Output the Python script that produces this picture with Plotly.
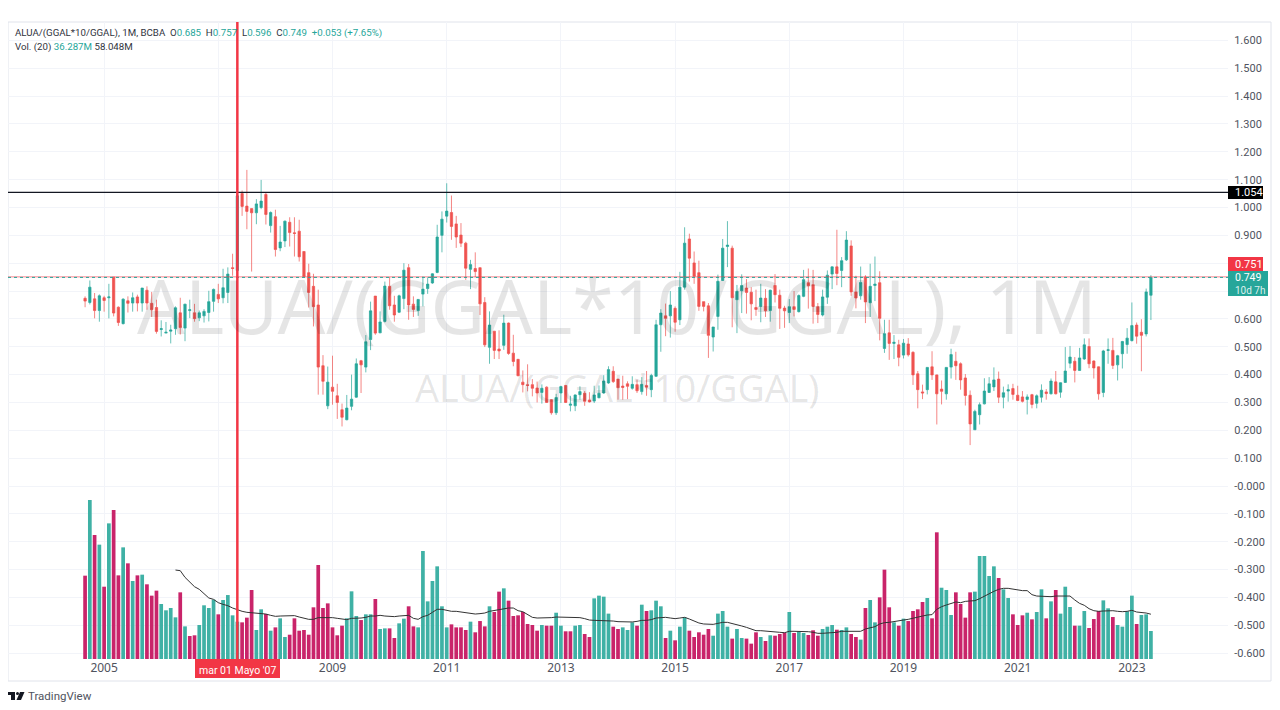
import plotly.graph_objects as go

# Monthly OHLC, Sep 2004 to May 2023
opens = [
    .674,.659,.672,.630,.676,.676,.750,.642,.583,.665,
    .657,.679,.657,.703,.656,.641,.562,.549,.556,.565,
    .622,.567,.630,.622,.604,.611,.623,.663,.688,.676,
    .695,.784,.774,1.050,1.005,.996,.981,1.000,1.047,.935,
    .967,.855,.880,.947,.909,.915,.842,.766,.717,.650,
    .432,.288,.355,.324,.274,.238,.286,.319,.450,.427,
    .526,.682,.550,.591,.717,.650,.624,.673,.784,.653,
    .630,.689,.709,.729,.767,.900,.969,.982,.941,.901,
    .872,.778,.781,.784,.659,.498,.556,.492,.505,.585,
    .477,.455,.373,.364,.364,.352,.336,.355,.310,.263,
    .334,.361,.290,.288,.328,.333,.309,.305,.317,.334,
    .370,.412,.384,.359,.367,.351,.364,.339,.361,.346,
    .394,.579,.611,.611,.638,.597,.714,.887,.801,.766,
    .662,.647,.535,.609,.738,.860,.854,.669,.701,.711,
    .696,.641,.645,.674,.630,.720,.685,.639,.623,.644,
    .626,.681,.730,.723,.644,.614,.678,.761,.787,.774,
    .812,.862,.697,.683,.750,.658,.720,.730,.494,.550,
    .512,.507,.470,.510,.480,.403,.338,.346,.428,.399,
    .348,.331,.427,.448,.439,.388,.326,.202,.256,.295,
    .336,.356,.384,.319,.341,.350,.326,.320,.311,.328,
    .297,.319,.338,.331,.374,.337,.372,.441,.448,.415,
    .456,.501,.449,.428,.336,.487,.487,.435,.475,.508,
    .522,.578,.552,.546,.685,
]
highs = [
    .681,.738,.693,.688,.683,.726,.750,.645,.674,.681,
    .695,.687,.711,.717,.697,.669,.595,.589,.579,.645,
    .676,.654,.669,.654,.630,.635,.701,.709,.726,.780,
    .785,.834,1.051,1.061,1.135,.996,1.030,1.099,1.054,.986,
    .992,.934,.953,.965,.965,.956,.842,.798,.762,.705,
    .470,.429,.468,.367,.296,.327,.400,.458,.453,.542,
    .662,.682,.627,.734,.750,.683,.687,.800,.797,.681,
    .671,.752,.749,.764,.938,.986,1.087,1.043,.970,.944,
    .877,.812,.839,.784,.678,.627,.556,.559,.615,.587,
    .543,.456,.415,.437,.384,.375,.365,.358,.312,.331,
    .360,.363,.324,.329,.358,.341,.337,.360,.361,.398,
    .430,.430,.384,.396,.376,.394,.382,.391,.413,.403,
    .597,.635,.655,.700,.645,.769,.929,.906,.842,.809,
    .662,.657,.571,.759,.887,.951,.863,.722,.760,.743,
    .714,.705,.726,.707,.705,.761,.705,.647,.671,.700,
    .688,.776,.781,.776,.657,.705,.774,.788,.920,.822,
    .915,.882,.755,.788,.757,.798,.824,.771,.597,.597,
    .542,.525,.528,.531,.484,.413,.364,.427,.484,.400,
    .379,.427,.493,.482,.444,.402,.343,.274,.300,.387,
    .391,.426,.411,.357,.365,.367,.360,.341,.329,.331,
    .329,.365,.348,.386,.413,.372,.499,.503,.463,.496,
    .530,.530,.451,.429,.489,.530,.532,.471,.521,.567,
    .659,.587,.599,.709,.757,
]
lows = [
    .642,.652,.602,.590,.626,.602,.609,.575,.580,.623,
    .626,.627,.626,.633,.607,.547,.537,.549,.512,.543,
    .544,.520,.603,.590,.592,.587,.591,.626,.657,.656,
    .657,.755,.764,.970,.922,.770,.940,.994,.939,.910,
    .824,.843,.858,.860,.824,.806,.750,.641,.573,.328,
    .328,.276,.292,.241,.214,.236,.272,.317,.334,.408,
    .488,.543,.549,.587,.633,.590,.621,.635,.597,.607,
    .611,.645,.690,.726,.764,.839,.946,.884,.855,.858,
    .740,.707,.750,.614,.499,.439,.456,.456,.489,.471,
    .430,.394,.336,.340,.322,.300,.296,.298,.256,.255,
    .298,.298,.268,.269,.310,.288,.300,.298,.315,.331,
    .367,.370,.310,.310,.312,.346,.334,.328,.324,.319,
    .392,.482,.538,.533,.554,.578,.705,.734,.726,.629,
    .627,.460,.483,.561,.736,.786,.570,.549,.621,.619,
    .595,.611,.588,.607,.590,.659,.564,.568,.585,.609,
    .623,.678,.637,.583,.585,.609,.654,.707,.721,.714,
    .808,.683,.638,.669,.585,.607,.664,.523,.478,.453,
    .456,.430,.458,.465,.363,.279,.312,.329,.381,.221,
    .293,.310,.386,.381,.346,.289,.147,.202,.221,.293,
    .334,.341,.298,.279,.303,.310,.305,.300,.257,.279,
    .279,.300,.310,.329,.329,.317,.370,.423,.372,.414,
    .453,.423,.386,.310,.319,.439,.420,.379,.422,.475,
    .519,.511,.412,.537,.596,
]
closes = [
    .664,.714,.630,.683,.666,.679,.621,.587,.671,.656,
    .676,.657,.711,.657,.633,.555,.565,.552,.560,.640,
    .569,.653,.633,.601,.622,.627,.662,.706,.672,.712,
    .761,.781,1.042,1.004,.986,.981,1.013,1.023,.975,.982,
    .849,.876,.951,.910,.907,.823,.752,.695,.644,.427,
    .376,.373,.340,.300,.247,.280,.312,.439,.435,.518,
    .629,.549,.589,.718,.647,.614,.683,.775,.650,.634,
    .670,.707,.725,.762,.894,.958,.987,.932,.894,.872,
    .782,.795,.770,.654,.507,.578,.487,.485,.585,.476,
    .447,.396,.364,.361,.351,.334,.351,.300,.263,.318,
    .357,.300,.294,.327,.339,.304,.302,.327,.333,.377,
    .418,.375,.353,.354,.358,.365,.342,.365,.355,.397,
    .579,.621,.602,.650,.588,.714,.872,.818,.753,.645,
    .645,.541,.571,.735,.854,.865,.676,.699,.720,.695,
    .654,.634,.675,.629,.703,.687,.638,.629,.644,.634,
    .684,.741,.719,.645,.616,.679,.757,.787,.763,.809,
    .883,.697,.675,.731,.661,.717,.725,.602,.547,.512,
    .516,.462,.513,.471,.399,.346,.334,.426,.399,.331,
    .340,.426,.472,.432,.381,.325,.223,.268,.292,.341,
    .367,.381,.319,.335,.346,.329,.307,.304,.320,.293,
    .324,.344,.332,.377,.331,.371,.413,.463,.415,.460,
    .507,.439,.424,.331,.485,.489,.433,.468,.519,.531,
    .576,.538,.541,.697,.749,
]

# Volume in millions, and the up/down colour flag of each bar
volumes = [
    108.0,206.1,160.7,148.2,93.7,175.8,193.1,108.4,144.7,124.0,
    101.1,108.4,109.3,96.8,82.1,88.6,71.3,63.1,66.1,54.0,
    86.4,42.3,29.8,30.7,44.1,69.6,66.1,76.9,57.9,76.5,
    82.9,56.6,48.4,47.5,53.6,89.4,37.6,64.4,58.3,36.7,
    41.0,52.7,28.5,31.5,52.7,36.7,37.6,31.5,67.0,121.8,
    66.1,72.1,41.0,30.7,43.2,52.7,87.7,55.7,50.5,57.9,
    57.9,77.8,38.9,39.7,39.7,27.2,46.2,52.3,68.3,42.3,
    41.0,140.0,74.7,101.1,120.1,68.3,41.0,44.9,41.0,41.0,
    37.6,48.4,34.6,49.2,42.3,68.3,60.9,87.3,91.6,75.6,
    55.7,56.6,60.9,45.4,44.1,36.7,44.1,43.2,43.2,60.0,
    43.2,35.9,35.9,43.2,44.1,32.4,28.5,78.6,82.1,80.8,
    58.8,41.9,38.9,41.0,37.6,47.5,43.2,70.4,62.2,63.1,
    75.6,68.3,27.2,36.7,24.2,41.9,54.0,36.7,28.5,34.6,
    31.5,38.9,30.2,58.8,62.2,41.9,26.4,38.9,27.2,26.4,
    19.9,34.6,28.5,23.3,30.7,30.2,32.4,34.1,60.9,33.7,
    35.4,33.7,31.1,37.2,30.2,38.9,41.9,44.1,38.0,37.6,
    41.0,32.4,28.5,25.1,66.1,76.5,47.5,79.9,115.8,67.0,
    47.5,43.2,52.3,49.2,62.2,64.4,73.9,79.1,52.7,164.2,
    92.4,89.4,57.0,86.4,71.3,53.6,86.4,87.3,133.5,133.5,
    107.6,120.1,105.0,90.3,79.1,57.9,44.1,56.6,60.0,51.4,
    60.9,90.3,52.7,74.7,89.4,58.8,93.7,67.4,43.2,43.2,
    62.2,40.2,51.8,62.2,76.0,65.7,54.4,44.1,41.9,61.8,
    82.1,45.4,57.0,57.9,36.287,
]
vol_dir = (
    "dudududdud" "ududdduuuu" "dudduuuudu" "uuuddduudu" "duuddddddd"
    "ddddduuudu" "uduudduudd" "uuuuuuuddd" "duddduddud" "dddddduddu"
    "udduudduuu" "udduuududu" "uududuuddd" "dduuuuduud" "ddududddud"
    "uuddduuudu" "udduduuddd" "ududdddudd" "uuudddduuu" "uuduudddud"
    "uududuuudu" "uddduuduuu" "uduuu"
)

# Volume moving average line (starts once 20 bars exist), millions
vol_ma = [
    115.3,114.5,105.8,99.8,93.7,90.3,85.1,79.1,77.3,73.0,
    70.8,69.1,66.1,63.5,61.8,60.5,60.0,59.6,59.2,58.3,
    56.6,55.3,55.7,55.7,56.2,56.2,54.4,52.7,51.4,51.4,
    53.6,53.6,54.0,53.6,52.7,51.8,51.0,52.7,52.7,53.1,54.0,
    55.7,55.7,56.6,55.7,54.9,54.9,55.7,56.6,56.6,
    52.7,51.4,54.9,56.6,60.5,64.4,64.4,62.6,61.8,61.8,60.9,
    59.6,58.3,58.3,58.8,59.6,61.8,63.1,64.4,65.2,66.1,
    66.1,62.6,61.3,57.5,54.0,53.1,53.1,53.1,53.6,54.4,
    54.4,54.0,54.0,54.0,53.6,52.3,50.5,50.1,50.1,50.1,
    50.1,49.2,48.4,48.0,48.0,48.0,48.8,50.1,50.1,51.0,
    53.1,54.0,54.0,53.1,52.3,53.1,54.0,51.8,49.2,46.7,
    45.4,44.9,44.9,46.2,47.5,47.5,46.2,44.5,42.8,41.0,
    38.4,36.7,36.7,36.3,36.3,35.9,34.6,34.1,35.9,35.9,
    35.9,35.9,35.4,34.6,33.3,33.3,33.7,34.1,34.6,35.9,
    35.9,35.9,35.9,35.9,38.9,40.2,41.9,45.4,47.1,47.5,
    48.8,49.2,50.5,51.4,53.1,54.0,55.7,57.0,57.5,64.4,
    67.8,70.0,72.1,73.9,73.0,74.7,75.2,75.6,78.2,81.6,
    84.2,87.7,90.3,91.6,91.6,90.7,89.4,88.6,88.6,83.4,
    81.6,81.2,80.8,80.8,81.6,81.6,82.5,81.6,76.5,72.1,
    69.6,65.2,62.6,61.8,62.2,62.6,62.6,61.8,61.3,61.8,
    63.1,60.9,60.5,59.6,58.048,
]

# Axis ticks
year_ticks = [2005, 2007, 2009, 2011, 2013, 2015, 2017, 2019, 2021, 2023]
year_labels = ["2005", "", "2009", "2011", "2013", "2015", "2017", "2019", "2021", "2023"]
price_ticks = [1.6, 1.5, 1.4, 1.3, 1.2, 1.1, 1.0, 0.9, 0.8, 0.7, 0.6, 0.5, 0.4, 0.3, 0.2, 0.1,
               0.0, -0.1, -0.2, -0.3, -0.4, -0.5, -0.6]
price_labels = ["1.600", "1.500", "1.400", "1.300", "1.200", "1.100", "1.000", "0.900", "", "",
                "0.600", "0.500", "0.400", "0.300", "0.200", "0.100",
                "-0.000", "-0.100", "-0.200", "-0.300", "-0.400", "-0.500", "-0.600"]

GREEN = "#26a69a"
RED = "#ef5350"
MARK_RED = "#f23645"
VOL_UP = "#3fb1a5"
VOL_DOWN = "#c9246a"
FONT = "Noto Sans"
SMALL_FONT = "Roboto"
TEXT = "#50535e"

# the page has an 8px body margin, and the pane runs 8..1228 by 22..659 on screen
PANE_L, PANE_R, PANE_T, PANE_B = 8, 1228, 22, 659


def px(x):
    return (x - PANE_L) / (PANE_R - PANE_L)


def py(y):
    return 1 - (y - PANE_T) / (PANE_B - PANE_T)


def month_index(year, month):
    return (year - 2004) * 12 + month - 9


def label(x, y, text, size=11, color=TEXT, xanchor="left", family=SMALL_FONT):
    fig.add_annotation(x=px(x), y=py(y), xref="paper", yref="paper", xanchor=xanchor, yanchor="middle",
                       showarrow=False, text=text, borderpad=0,
                       font=dict(family=family, size=size, color=color))


idx = list(range(len(opens)))
fig = go.Figure()

fig.add_trace(go.Bar(
    x=idx, y=volumes, yaxis="y2",
    marker=dict(color=[VOL_UP if d == "u" else VOL_DOWN for d in vol_dir], line_width=0),
    hoverinfo="skip",
))
fig.add_trace(go.Scatter(
    x=idx[19:], y=vol_ma, yaxis="y2", mode="lines",
    line=dict(color="#333333", width=1), hoverinfo="skip",
))
fig.add_trace(go.Candlestick(
    x=idx, open=opens, high=highs, low=lows, close=closes,
    increasing=dict(line=dict(color="rgba(38,166,154,0.7)", width=1), fillcolor=GREEN),
    decreasing=dict(line=dict(color="rgba(239,83,80,0.7)", width=1), fillcolor=RED),
    whiskerwidth=0,
))

fig.update_layout(
    width=1264, height=694,
    margin=dict(l=0, r=44, t=14, b=43),
    paper_bgcolor="white", plot_bgcolor="white",
    showlegend=False, bargap=0.22,
    font=dict(family=FONT, size=11, color=TEXT),
    xaxis=dict(
        range=[-16.2, 240.2], rangeslider_visible=False,
        tickvals=[month_index(y, 1) for y in year_ticks], ticktext=year_labels,
        showgrid=True, gridcolor="#f2f4f9", zeroline=False, showline=False,
        ticks="", tickfont=dict(size=12, color=TEXT),
    ),
    yaxis=dict(
        range=[-0.621, 1.666], side="right",
        tickvals=price_ticks, ticktext=price_labels,
        showgrid=True, gridcolor="#f2f4f9", zeroline=False, showline=False,
        ticks="outside", ticklen=3, tickcolor="rgba(0,0,0,0)",
        tickfont=dict(family=SMALL_FONT, size=11, color=TEXT),
    ),
    yaxis2=dict(range=[0, 825.6], overlaying="y", visible=False),
)

# watermark
label(617, 305, "ALUA/(GGAL*10/GGAL), 1M", size=75, color="rgba(0,0,0,0.10)", xanchor="center", family=FONT)
label(617, 387, "ALUA/(GGAL*10/GGAL)", size=37.5, color="rgba(0,0,0,0.10)", xanchor="center", family=FONT)

# horizontal levels and the marked month
fig.add_hline(y=1.054, line=dict(color="#131722", width=1.2))
fig.add_hline(y=0.751, line=dict(color=MARK_RED, width=1), opacity=0.6)
fig.add_hline(y=0.749, line=dict(color=GREEN, width=1, dash="dot"))
fig.add_vline(x=month_index(2007, 5), line=dict(color=MARK_RED, width=2.5))

# pane frame
fig.add_shape(type="rect", xref="paper", yref="paper", x0=px(8), x1=px(1271), y0=py(681), y1=py(22),
              line=dict(color="#e0e3eb", width=1), layer="below")

# price axis and date labels
boxes = [
    (1228, 1263, 186, 199, "#000000"),
    (1228, 1263, 257, 271, MARK_RED),
    (1228, 1268, 271, 296, GREEN),
    (195, 280, 659, 678, MARK_RED),
]
for x0, x1, y0, y1, color in boxes:
    fig.add_shape(type="rect", xref="paper", yref="paper", x0=px(x0), x1=px(x1), y0=py(y1), y1=py(y0),
                  fillcolor=color, line_width=0)
label(1234, 192.5, "1.054", color="white")
label(1234, 264, "0.751", color="white")
label(1234, 277.5, "0.749", size=10.5, color="white")
label(1234, 290.5, "10d 7h", size=10, color="rgba(255,255,255,0.85)")
label(237.5, 671, "mar 01 Mayo '07", size=10.5, color="white", xanchor="center")

# legend text
g = f'<span style="color:{GREEN}">'
header = (f'ALUA/(GGAL*10/GGAL), 1M, BCBA  O{g}0.685</span>  H{g}0.757</span>  '
          f'L{g}0.596</span>  C{g}0.749</span>  {g}+0.053 (+7.65%)</span>')
label(13.5, 33, header, size=9.7, color="#30333d")
label(13.5, 47, f'Vol. (20) {g}36.287M</span> 58.048M', size=9.7, color="#30333d")


# TradingView mark
def pt(x, y):
    return f"{px(x):.5f} {py(y):.5f}"


logo = [
    f"M {pt(8, 692)} L {pt(15, 692)} L {pt(15, 700)} L {pt(11, 700)} L {pt(11, 695)} L {pt(8, 695)} Z",
    f"M {pt(20, 692)} L {pt(24.5, 692)} L {pt(21, 700)} L {pt(16.5, 700)} Z",
]
for path in logo:
    fig.add_shape(type="path", xref="paper", yref="paper", path=path, fillcolor="#131722", line_width=0)
fig.add_shape(type="circle", xref="paper", yref="paper", x0=px(16), x1=px(19), y0=py(695), y1=py(692),
              fillcolor="#131722", line_width=0)
label(27, 695.5, "TradingView", size=11.5)

fig.write_html("out.html")
